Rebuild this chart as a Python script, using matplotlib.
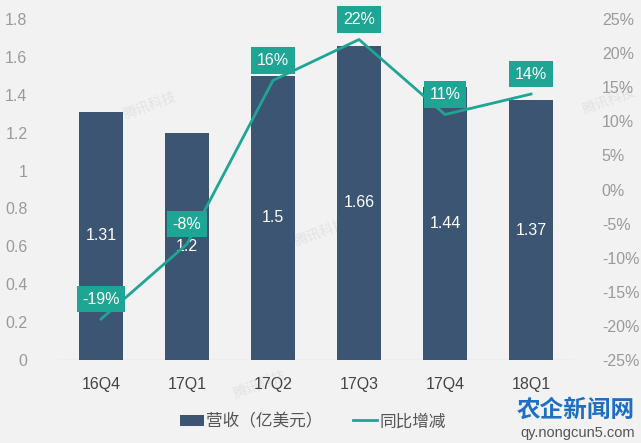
import matplotlib
matplotlib.use("Agg")
import matplotlib.pyplot as plt
from matplotlib.ticker import FuncFormatter

plt.rcParams['font.family'] = ['Noto Sans CJK SC', 'DejaVu Sans']

quarters = ["16Q4", "17Q1", "17Q2", "17Q3", "17Q4", "18Q1"]
revenue = [1.31, 1.2, 1.5, 1.66, 1.44, 1.37]   # 亿美元
growth = [-19, -8, 16, 22, 11, 14]             # 同比增减 %

bar_color = "#3b5573"
line_color = "#1fa594"
bg = "#f2f2f2"
tick_color = "#9a9a9a"
latin = ['Liberation Sans', 'DejaVu Sans']

fig = plt.figure(figsize=(6.41, 4.43), dpi=100, facecolor=bg)

# faint watermarks (drawn first, behind the chart)
for wx, wy in [(0.234, 0.763), (0.405, 0.131), (0.50, 0.476), (0.95, 0.774)]:
    fig.text(wx, wy, "腾讯科技", color="#e2e2e2", fontsize=10, rotation=20,
             ha="center", va="center", zorder=-5)

ax = fig.add_axes([0.0905, 0.1874, 0.805, 0.7696])
ax2 = ax.twinx()

x = list(range(len(quarters)))
bars = ax.bar(x, revenue, width=0.51, color=bar_color, zorder=2)
ax.set_xlim(-0.5, len(quarters) - 0.5)
ax.set_ylim(0, 1.8)
ax.set_yticks([i * 0.2 for i in range(10)])
ax.yaxis.set_major_formatter(FuncFormatter(lambda v, p: "0" if v == 0 else "%g" % round(v, 1)))
ax.set_xticks(x)
ax.set_xticklabels(quarters, fontsize=11.5, color="#444444", family=latin)

for xi, v in zip(x, revenue):
    ax.text(xi, v / 2, "%g" % v, ha="center", va="center", color="white", fontsize=11.5,
            family=latin, zorder=3)

line, = ax2.plot(x, growth, color=line_color, lw=2, zorder=4)
ax2.set_ylim(-25, 25)
ax2.set_yticks(range(-25, 30, 5))
ax2.yaxis.set_major_formatter(FuncFormatter(lambda v, p: "%d%%" % v))

for xi, g in zip(x, growth):
    ax2.annotate("%d%%" % g, (xi, g), xytext=(0, 20), textcoords="offset pixels",
                 ha="center", va="center", color="white", fontsize=11.5,
                 family=latin, zorder=5,
                 bbox=dict(boxstyle="square,pad=0.35", fc=line_color, ec="none"))

for a in (ax, ax2):
    for s in a.spines.values():
        s.set_visible(False)
    a.tick_params(length=0, colors=tick_color, labelsize=11.5)
    for lbl in a.get_yticklabels():
        lbl.set_family(latin)
ax.tick_params(axis="x", colors="#444444", pad=12)
ax.tick_params(axis="y", pad=22)
ax2.tick_params(axis="y", pad=20)
ax.axhline(0, color="#d9d9d9", lw=1, zorder=1)
ax.patch.set_visible(False)
ax2.patch.set_visible(False)

fig.legend(handles=[bars, line], labels=["营收（亿美元）", "同比增减"], loc="center",
           bbox_to_anchor=(0.488, 0.048), ncol=2, frameon=False, fontsize=12,
           handlelength=1.45, handletextpad=0.15, columnspacing=1.8, labelcolor="#555555")

fig.text(0.99, 0.075, "农企新闻网", color="#1e6fc4", fontsize=17, fontweight="bold", ha="right", va="center")
fig.text(0.99, 0.022, "qy.nongcun5.com", color="#555555", fontsize=10.5, ha="right", va="center",
         family=latin)

fig.savefig("out.png", dpi=100, facecolor=bg)
